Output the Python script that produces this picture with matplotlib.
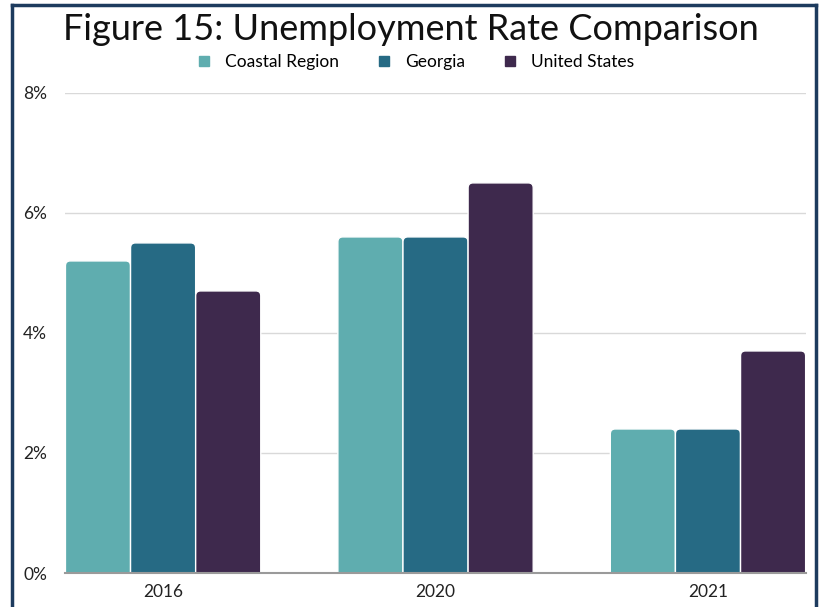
import matplotlib
matplotlib.use("Agg")
import matplotlib.pyplot as plt
from matplotlib.patches import FancyBboxPatch
from matplotlib.lines import Line2D
from matplotlib.ticker import FuncFormatter
import numpy as np

# ----------------------------------------------------------------------------------------------------------------------
years = ["2016", "2020", "2021"]
series_names = ["Coastal Region", "Georgia", "United States"]
coastal = [5.2, 5.6, 2.4]
georgia = [5.5, 5.6, 2.4]
united_states = [4.7, 6.5, 3.7]
colors = ["#5FADAF", "#266A84", "#3E294D"]
# ----------------------------------------------------------------------------------------------------------------------

plt.rcParams['font.family'] = ['Lato', 'DejaVu Sans']

fig = plt.figure(figsize=(8.21, 6.07), dpi=100)
ax = fig.add_axes([0.0792, 0.056, 0.9026, 0.791])

x = np.arange(len(years))
width = 0.239
values = [coastal, georgia, united_states]

# Plain bars first, then swap each for a box with rounded top corners
for i, (name, vals) in enumerate(zip(series_names, values)):
    bars = ax.bar(x + (i - 1) * width, vals, width, color=colors[i], label=name,
                  edgecolor="white", linewidth=1)
    for b in bars:
        b.set_visible(False)
        rb = FancyBboxPatch((b.get_x(), -0.3), b.get_width(), b.get_height() + 0.3,
                            boxstyle="round,pad=0,rounding_size=0.018",
                            mutation_aspect=272 / 60, facecolor=colors[i],
                            edgecolor="white", linewidth=1, zorder=2)
        ax.add_patch(rb)
        rb.set_clip_box(ax.bbox)

ax.set_xlim(-0.36, 2.36)
ax.set_ylim(0, 8)
ax.set_yticks([0, 2, 4, 6, 8])
ax.yaxis.set_major_formatter(FuncFormatter(lambda v, p: "{:.0f}%".format(v)))
ax.set_xticks(x)
ax.set_xticklabels(years)
ax.tick_params(axis="both", length=0, labelsize=12.5, colors="#222222")
ax.tick_params(axis="y", pad=13)
ax.tick_params(axis="x", pad=8)

ax.grid(axis="y", color="#d9d9d9", linewidth=1)
ax.set_axisbelow(True)
for side in ["top", "right", "left"]:
    ax.spines[side].set_visible(False)
ax.spines["bottom"].set_color("#9a9a9a")
ax.spines["bottom"].set_linewidth(1.5)
ax.spines["bottom"].set_zorder(3)

fig.text(0.5, 0.952, "Figure 15: Unemployment Rate Comparison", ha="center", va="center",
         fontsize=26, color="#111111")

handles = [plt.Line2D([], [], marker="s", linestyle="", markersize=7.5, color=c) for c in colors]
fig.legend(handles, series_names, loc="center", bbox_to_anchor=(0.5, 0.898), ncol=3,
           frameon=False, fontsize=12.5, handletextpad=0.2, columnspacing=1.6)

# Navy frame round the figure
frame_color = "#1d3b5e"
fig.add_artist(Line2D([0.0146, 0.0146], [0, 0.992], color=frame_color, linewidth=2.5))
fig.add_artist(Line2D([0.9939, 0.9939], [0, 0.992], color=frame_color, linewidth=2.5))
fig.add_artist(Line2D([0.0146, 0.9939], [0.992, 0.992], color=frame_color, linewidth=2.5))

fig.savefig("out.png", dpi=100)
